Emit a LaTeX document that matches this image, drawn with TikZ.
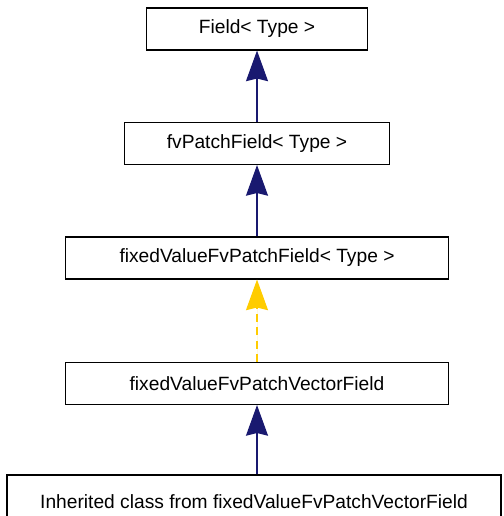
\documentclass[tikz,border=0pt]{standalone}
\usepackage{fontspec}
\setmainfont{Liberation Sans}
\usetikzlibrary{arrows.meta}
\definecolor{pubblue}{RGB}{25,25,112}
\definecolor{tmplgold}{RGB}{255,204,0}
\begin{document}
\begin{tikzpicture}
  [x=0.75pt,y=-0.75pt,
   every node/.style={draw,rectangle,inner sep=0pt,line width=0.8pt,minimum height=31.5pt,
     font=\fontsize{14.4}{17}\selectfont},
   pub/.style={draw=pubblue,fill=pubblue,line width=1.1pt,-{Stealth[length=23pt,width=16.5pt,inset=2pt]}},
   tmpl/.style={draw=tmplgold,fill=tmplgold,line width=1.1pt,dash pattern=on 6pt off 4pt,
     -{Stealth[length=23pt,width=16.5pt,inset=2pt,sep=0pt]}}]
  \useasboundingbox (0,0) rectangle (503,516);
  \node[minimum width=165.75pt] (field) at (257,29)  {Field< Type >};
  \node[minimum width=198.75pt] (fvp)   at (257,143.5) {fvPatchField< Type >};
  \node[minimum width=287.25pt] (fixv)  at (257,258) {fixedValueFvPatchField< Type >};
  \node[minimum width=287.25pt] (fixvv) at (257,383.5) {fixedValueFvPatchVectorField};
  \node[minimum width=370.5pt,minimum height=40.5pt] (inh) at (254,502)
    {Inherited class from fixedValueFvPatchVectorField};

  \foreach \src/\dst in {fvp/field, fixv/fvp}
    \draw[pub] (\src) -- (\dst);
  \draw[pub] (inh.north -| fixvv.south) -- (fixvv.south);
  \draw[tmpl] (fixvv) -- (fixv);

\end{tikzpicture}
\end{document}
